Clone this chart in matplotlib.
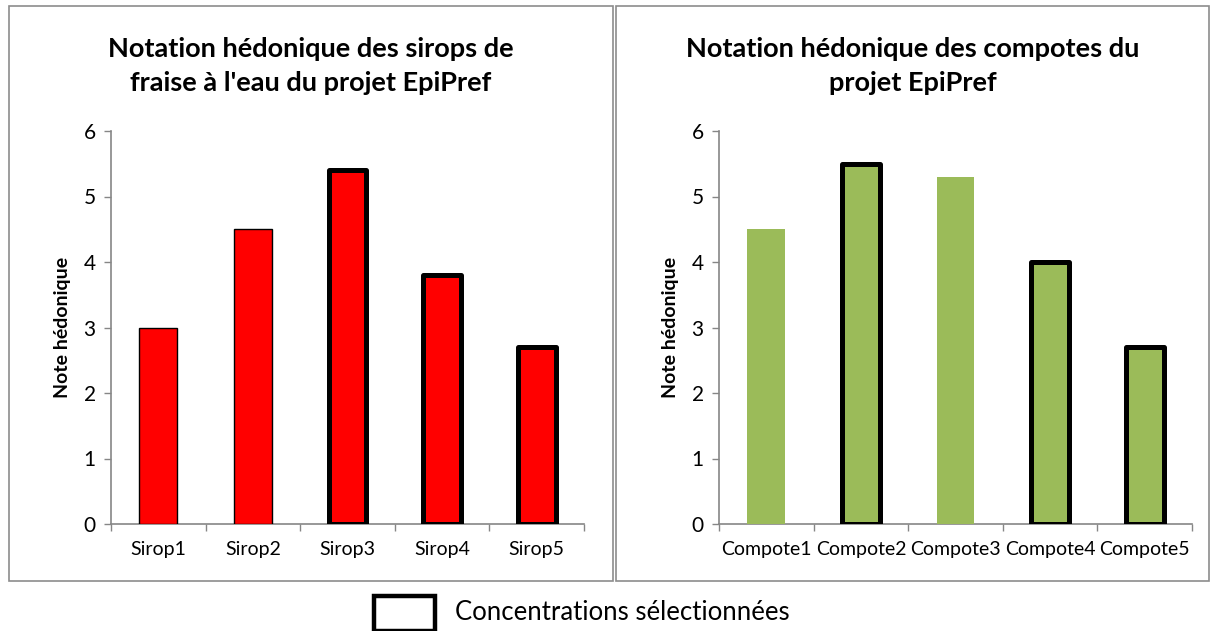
import matplotlib
matplotlib.use('Agg')
import matplotlib.pyplot as plt
from matplotlib.patches import Rectangle

plt.rcParams['font.family'] = ['Lato', 'DejaVu Sans']

# données
sirops = ['Sirop1', 'Sirop2', 'Sirop3', 'Sirop4', 'Sirop5']
notes_sirops = [3.0, 4.5, 5.4, 3.8, 2.7]
sirops_choisis = [False, False, True, True, True]

compotes = ['Compote1', 'Compote2', 'Compote3', 'Compote4', 'Compote5']
notes_compotes = [4.5, 5.5, 5.3, 4.0, 2.7]
compotes_choisies = [False, True, False, True, True]

W, H = 1212, 631
fig = plt.figure(figsize=(W / 100, H / 100), dpi=100)


def fx(px):
    return px / W


def fy(py):
    return 1 - py / H


gris = '#868686'


def panneau(x0, noms, notes, choix, couleur, bord_fin, titre, x_cadre):
    # cadre gris autour du graphique
    fig.patches.append(Rectangle((fx(x_cadre[0]), fy(581)), fx(x_cadre[1] - x_cadre[0]),
                                 fy(6) - fy(581), transform=fig.transFigure,
                                 fill=False, edgecolor='#8c8c8c', lw=1.2))
    ax = fig.add_axes([fx(x0), fy(524), fx(473), fy(131) - fy(524)])
    pos = range(len(noms))
    for i in pos:
        if choix[i]:
            ax.bar(i, notes[i], width=0.4, color=couleur, edgecolor='black', lw=3.6,
                   joinstyle='round', zorder=3)
        else:
            ax.bar(i, notes[i], width=0.4, color=couleur,
                   edgecolor='black' if bord_fin else 'none', lw=1.0, zorder=3)
    ax.set_xlim(-0.5, len(noms) - 0.5)
    ax.set_ylim(0, 6)
    ax.set_yticks(range(7))
    ax.set_xticks([i - 0.5 for i in range(len(noms) + 1)])
    ax.set_xticklabels([])
    ax.set_xticks(list(pos), minor=True)
    ax.set_xticklabels(noms, minor=True, fontsize=14)
    ax.tick_params(axis='x', which='major', direction='out', length=5, color=gris, width=1)
    ax.tick_params(axis='x', which='minor', length=0, pad=12)
    ax.tick_params(axis='y', direction='out', length=5, color=gris, width=1, labelsize=15, pad=6)
    for s in ['top', 'right']:
        ax.spines[s].set_visible(False)
    for s in ['left', 'bottom']:
        ax.spines[s].set_color(gris)
        ax.spines[s].set_linewidth(1.2)
    ax.set_ylabel('Note hédonique', fontsize=14, fontweight='bold', labelpad=9)
    cx = (x_cadre[0] + x_cadre[1]) / 2
    fig.text(fx(cx), fy(66), titre, ha='center', va='center', fontsize=19.5,
             fontweight='bold', linespacing=1.5)
    return ax


panneau(111, sirops, notes_sirops, sirops_choisis, '#ff0000', True,
        "Notation hédonique des sirops de\nfraise à l'eau du projet EpiPref", (9, 613))
panneau(719, compotes, notes_compotes, compotes_choisies, '#9bbb59', False,
        'Notation hédonique des compotes du\nprojet EpiPref', (616, 1209))

# légende : cadre noir = concentrations retenues
fig.patches.append(Rectangle((fx(374), fy(631)), fx(61), fy(596) - fy(631),
                             transform=fig.transFigure, fill=False,
                             edgecolor='black', lw=3.2))
fig.text(fx(455), fy(613), 'Concentrations sélectionnées', ha='left', va='center',
         fontsize=18.5)

fig.savefig('out.png', dpi=100)
